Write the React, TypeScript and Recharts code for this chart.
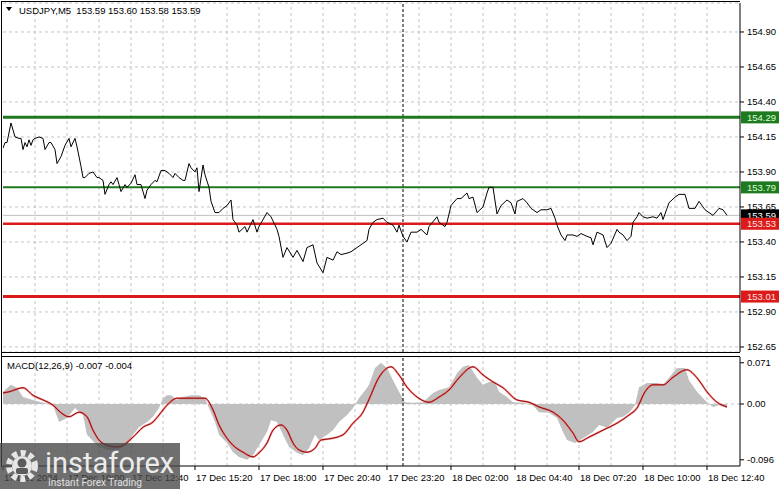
import React from "react";
import { ComposedChart, Line, Area, XAxis, YAxis, CartesianGrid, ReferenceLine } from "recharts";

const FONT = '"Liberation Sans", Arial, sans-serif';
const GREEN = "#1f7a1f";
const RED = "#dc1a1a";
const GRID = "#c4c4c4";

// M5 bars, bar 0 = 17 Dec 07:20
const symbol = "USDJPY,M5";
const ohlc = [153.59, 153.6, 153.58, 153.59];
const macdParams = "12,26,9";
const macdNow = [-0.007, -0.004];

const priceTicks = [152.65, 152.9, 153.15, 153.4, 153.65, 153.9, 154.15, 154.4, 154.65, 154.9];
const resistance = [154.29, 153.79];
const support = [153.53, 153.01];
const lastPrice = 153.59;
const cursorBar = 200;

const timeBars = [0, 32, 64, 96, 128, 160, 192, 224, 256, 288, 320, 352];
const timeLabels = [
  "17 Dec 2024", "17 Dec 10:00", "17 Dec 12:40", "17 Dec 15:20", "17 Dec 18:00", "17 Dec 20:40",
  "17 Dec 23:20", "18 Dec 02:00", "18 Dec 04:40", "18 Dec 07:20", "18 Dec 10:00", "18 Dec 12:40",
];

const macdTicks = [0.071, 0, -0.096];

// [bar, close]
const priceTrace: [number, number][] = [
  [0, 154.07], [1, 154.11], [2, 154.11], [4, 154.25], [5, 154.2], [6, 154.15], [8, 154.14], [9, 154.14],
  [10, 154.06], [11, 154.11], [12, 154.08], [13, 154.13], [14, 154.09], [15, 154.13], [16, 154.14],
  [18, 154.15], [20, 154.14], [21, 154.06], [23, 154.11], [24, 154.11], [26, 154.06], [27, 153.96],
  [29, 154.01], [31, 154.09], [33, 154.14], [34, 154.08], [36, 154.14], [37, 154.08], [39, 153.94],
  [40, 153.86], [41, 153.86], [43, 153.89], [45, 153.9], [47, 153.86], [48, 153.86], [50, 153.84],
  [51, 153.74], [53, 153.81], [54, 153.83], [55, 153.81], [57, 153.86], [58, 153.81], [59, 153.76],
  [61, 153.81], [62, 153.79], [64, 153.82], [66, 153.88], [67, 153.81], [69, 153.81], [71, 153.71],
  [72, 153.77], [74, 153.81], [76, 153.84], [77, 153.83], [79, 153.91], [81, 153.91], [83, 153.89],
  [85, 153.86], [86, 153.89], [88, 153.86], [90, 153.84], [91, 153.84], [93, 153.96], [94, 153.93],
  [96, 153.9], [97, 153.93], [98, 153.76], [100, 153.95], [101, 153.88], [103, 153.79], [104, 153.69],
  [106, 153.61], [108, 153.61], [110, 153.64], [112, 153.66], [114, 153.7], [115, 153.56], [117, 153.52],
  [118, 153.47], [121, 153.51], [122, 153.47], [125, 153.56], [127, 153.47], [128, 153.51], [132, 153.61],
  [134, 153.58], [137, 153.49], [138, 153.44], [140, 153.29], [142, 153.36], [145, 153.29], [147, 153.34],
  [150, 153.26], [152, 153.36], [155, 153.38], [157, 153.25], [160, 153.18], [162, 153.29], [165, 153.27],
  [167, 153.33], [169, 153.31], [172, 153.32], [174, 153.33], [177, 153.36], [179, 153.38], [182, 153.41],
  [183, 153.49], [185, 153.54], [187, 153.56], [190, 153.57], [192, 153.54], [195, 153.52], [197, 153.47],
  [198, 153.52], [200, 153.44], [202, 153.4], [204, 153.47], [207, 153.47], [209, 153.49], [212, 153.45],
  [213, 153.51], [217, 153.58], [218, 153.54], [221, 153.51], [222, 153.54], [224, 153.66], [227, 153.71],
  [229, 153.71], [232, 153.75], [233, 153.71], [235, 153.72], [237, 153.61], [240, 153.65], [242, 153.75],
  [243, 153.79], [245, 153.79], [247, 153.6], [249, 153.66], [252, 153.7], [254, 153.68], [256, 153.6],
  [257, 153.69], [260, 153.71], [262, 153.68], [264, 153.64], [267, 153.61], [269, 153.63], [272, 153.63],
  [274, 153.64], [276, 153.57], [277, 153.52], [279, 153.45], [281, 153.41], [282, 153.45], [285, 153.45],
  [287, 153.44], [289, 153.46], [292, 153.44], [294, 153.43], [295, 153.38], [297, 153.47], [300, 153.45],
  [302, 153.36], [304, 153.39], [307, 153.49], [308, 153.47], [310, 153.45], [312, 153.41], [314, 153.44],
  [315, 153.54], [317, 153.58], [318, 153.61], [320, 153.58], [322, 153.57], [325, 153.58], [327, 153.57],
  [329, 153.61], [330, 153.56], [332, 153.64], [333, 153.68], [336, 153.72], [338, 153.74], [341, 153.74],
  [343, 153.64], [346, 153.64], [348, 153.69], [351, 153.63], [353, 153.61], [355, 153.59], [358, 153.64],
  [360, 153.63], [362, 153.59],
];

// [bar, macd main] (histogram)
const macdTrace: [number, number][] = [
  [0, 0.021], [4, 0.033], [7, 0.028], [10, 0.012], [15, 0.007], [20, 0.002], [25, -0.002], [28, -0.031],
  [32, -0.024], [36, -0.007], [40, -0.019], [42, -0.053], [47, -0.071], [52, -0.079], [57, -0.079],
  [62, -0.071], [65, -0.053], [68, -0.04], [72, -0.031], [75, -0.022], [78, -0.007], [80, 0.01], [82, 0.015],
  [84, 0.015], [87, 0.007], [90, 0.012], [94, 0.015], [98, 0.015], [101, 0.01], [103, -0.007], [106, -0.031],
  [108, -0.053], [112, -0.067], [115, -0.083], [118, -0.091], [122, -0.096], [125, -0.088], [128, -0.071],
  [132, -0.048], [134, -0.028], [137, -0.031], [140, -0.053], [143, -0.074], [147, -0.084], [150, -0.088],
  [153, -0.076], [156, -0.053], [158, -0.062], [162, -0.053], [165, -0.045], [168, -0.031], [172, -0.019],
  [175, -0.007], [178, 0.01], [182, 0.028], [183, 0.033], [186, 0.062], [189, 0.071], [192, 0.062],
  [195, 0.041], [198, 0.021], [201, 0.003], [205, 0.002], [210, 0.003], [215, 0.019], [218, 0.024],
  [223, 0.029], [227, 0.053], [230, 0.064], [233, 0.067], [237, 0.045], [240, 0.033], [243, 0.038],
  [246, 0.038], [248, 0.021], [252, 0.012], [255, 0.003], [260, 0.002], [265, -0.002], [268, -0.014],
  [273, -0.015], [277, -0.024], [280, -0.048], [282, -0.062], [286, -0.067], [290, -0.059], [295, -0.048],
  [298, -0.036], [302, -0.041], [307, -0.024], [310, -0.022], [313, -0.015], [316, -0.002], [318, 0.029],
  [322, 0.036], [327, 0.036], [330, 0.033], [333, 0.045], [337, 0.062], [341, 0.062], [343, 0.041],
  [347, 0.021], [352, 0.003], [355, -0.005], [358, -0.002], [362, -0.007],
];

// [bar, signal]
const signalTrace: [number, number][] = [
  [0, 0.019], [3, 0.021], [10, 0.028], [15, 0.015], [20, 0.007], [25, -0.002], [29, -0.015], [33, -0.022],
  [38, -0.014], [42, -0.022], [45, -0.045], [48, -0.062], [52, -0.071], [57, -0.074], [60, -0.071],
  [65, -0.057], [70, -0.04], [75, -0.031], [78, -0.019], [82, -0.002], [87, 0.01], [92, 0.01], [98, 0.01],
  [101, 0.01], [105, -0.01], [108, -0.036], [112, -0.059], [115, -0.071], [120, -0.083], [125, -0.091],
  [128, -0.084], [132, -0.067], [135, -0.045], [139, -0.036], [142, -0.045], [145, -0.067], [148, -0.079],
  [152, -0.083], [156, -0.076], [159, -0.062], [163, -0.06], [170, -0.053], [175, -0.033], [180, -0.014],
  [183, 0.008], [188, 0.046], [194, 0.064], [198, 0.05], [202, 0.029], [207, 0.012], [213, 0.003],
  [218, 0.012], [223, 0.024], [228, 0.045], [235, 0.064], [240, 0.05], [245, 0.038], [250, 0.028],
  [257, 0.007], [263, 0.003], [268, -0.005], [275, -0.014], [280, -0.028], [285, -0.05], [288, -0.065],
  [293, -0.057], [300, -0.045], [307, -0.033], [313, -0.019], [317, -0.007], [321, 0.021], [325, 0.033],
  [330, 0.033], [335, 0.046], [342, 0.059], [347, 0.045], [352, 0.021], [357, 0.003], [362, -0.005],
];

const W = 781;
const AXIS_W = 41;
const BAR_DOMAIN: [number, number] = [0, 368.5];
const gridBars = Array.from({ length: 22 }, (_, i) => (i + 1) * 16);

const toRows = (t: [number, number][]) => t.map(([bar, v]) => ({ bar, v }));
const priceRows = toRows(priceTrace);
const macdRows = toRows(macdTrace);
const signalRows = toRows(signalTrace);

const tickText = { fontSize: 9.5, fill: "#000", fontFamily: FONT };

function PriceTag(props: any) {
  const { viewBox, price, bg, fg } = props;
  if (!viewBox) return null;
  const x = viewBox.x + viewBox.width + 1;
  const y = viewBox.y;
  return (
    <g>
      <rect x={x} y={y - 6} width={38} height={12} fill={bg} />
      <text x={x + 6} y={y} dy="0.36em" {...tickText} fill={fg}>{price.toFixed(2)}</text>
    </g>
  );
}

function TimeTick(props: any) {
  const { x, y, payload } = props;
  const i = timeBars.indexOf(payload.value);
  return (
    <text x={x + 1} y={y} dy="0.71em" textAnchor="start" {...tickText}>{timeLabels[i]}</text>
  );
}

function PricePane() {
  return (
    <ComposedChart width={W} height={356} margin={{ top: 3, right: 0, bottom: 4, left: 3 }}>
      <CartesianGrid vertical={false} stroke={GRID} strokeDasharray="3 3" />
      <XAxis type="number" dataKey="bar" domain={BAR_DOMAIN} allowDataOverflow hide />
      <YAxis
        orientation="right" type="number" width={AXIS_W} domain={[152.614, 155.107]} allowDataOverflow
        ticks={priceTicks} interval={0} tickSize={4} tickMargin={3}
        tickFormatter={(v: number) => v.toFixed(2)} tick={tickText} stroke="#000"
      />
      {gridBars.map((b) => (
        <ReferenceLine key={b} x={b} stroke={GRID} strokeDasharray="3 3" />
      ))}
      <ReferenceLine x={cursorBar} stroke="#000" strokeDasharray="3 2" />
      <ReferenceLine y={lastPrice} stroke="#c0c0c0"
        label={<PriceTag price={lastPrice} bg="#000" fg="#fff" />} />
      {resistance.map((p, i) => (
        <ReferenceLine key={p} y={p} stroke={GREEN} strokeWidth={i === 0 ? 3 : 2}
          label={<PriceTag price={p} bg={GREEN} fg="#d8ffd8" />} />
      ))}
      {support.map((p, i) => (
        <ReferenceLine key={p} y={p} stroke={RED} strokeWidth={i === 0 ? 2.5 : 3}
          label={<PriceTag price={p} bg={RED} fg="#ffe0e0" />} />
      ))}
      <Line data={priceRows} dataKey="v" type="linear" stroke="#000" strokeWidth={1} dot={false}
        isAnimationActive={false} />
    </ComposedChart>
  );
}

function MacdPane() {
  return (
    <ComposedChart width={W} height={135} margin={{ top: 3, right: 0, bottom: 0, left: 3 }}>
      <XAxis
        type="number" dataKey="bar" domain={BAR_DOMAIN} allowDataOverflow ticks={timeBars} interval={0}
        height={23} tickSize={4} tickMargin={4} stroke="#000" tick={<TimeTick />}
      />
      <YAxis
        orientation="right" type="number" width={AXIS_W} domain={[-0.1067, 0.0809]} allowDataOverflow
        ticks={macdTicks} interval={0} tickSize={4} tickMargin={3}
        tickFormatter={(v: number) => (v === 0 ? "0.00" : String(v))} tick={tickText} stroke="#000"
      />
      {gridBars.map((b) => (
        <ReferenceLine key={b} x={b} stroke={GRID} strokeDasharray="3 3" />
      ))}
      <Area data={macdRows} dataKey="v" type="linear" baseValue={0} fill="#c0c0c0" fillOpacity={1}
        stroke="none" isAnimationActive={false} />
      <ReferenceLine y={0} stroke={GRID} strokeDasharray="3 3" />
      <ReferenceLine x={cursorBar} stroke="#000" strokeDasharray="3 2" />
      <Line data={signalRows} dataKey="v" type="monotone" stroke="#ff5050" strokeOpacity={0.7}
        strokeWidth={2} dot={false} isAnimationActive={false} />
      <Line data={signalRows} dataKey="v" type="monotone" stroke="#7a0000" strokeWidth={0.9} dot={false}
        isAnimationActive={false} />
    </ComposedChart>
  );
}

function Watermark() {
  return (
    <svg width={181} height={46} style={{ position: "absolute", left: 0, top: 443 }}>
      <rect x={0} y={0} width={180} height={46} fill="rgba(70,70,70,0.78)" />
      <g transform="translate(22,23)" fill="#e6e6e6">
        <circle r={13} fill="none" stroke="#e6e6e6" strokeWidth={6} strokeDasharray="5 3.5" />
        <circle r={10} />
        <circle r={4.5} cy={-3} fill="#5a5a5a" />
        <rect x={-6} y={2} width={12} height={6} rx={2} fill="#5a5a5a" />
      </g>
      <text x={45} y={30} fontSize={29} fill="#ececec" fontFamily="Roboto, sans-serif">instaforex</text>
      <text x={48} y={43} fontSize={10} fill="#e0e0e0" fontFamily="Roboto, sans-serif">Instant Forex Trading</text>
    </svg>
  );
}

export default function App() {
  return (
    <div style={{ position: "absolute", left: 0, top: 0, width: W, height: 489, background: "#fff", overflow: "hidden" }}>
      <div style={{ position: "absolute", left: 0, top: 0 }}>
        <PricePane />
      </div>
      <div style={{ position: "absolute", left: 0, top: 354 }}>
        <MacdPane />
      </div>
      <svg width={W} height={489} style={{ position: "absolute", left: 0, top: 0, pointerEvents: "none" }}>
        <line x1={1.5} y1={1} x2={1.5} y2={467} stroke="#000" />
        <line x1={1} y1={1.5} x2={740} y2={1.5} stroke="#000" />
        <line x1={1} y1={352.5} x2={740} y2={352.5} stroke="#000" />
        <line x1={1} y1={356.5} x2={740} y2={356.5} stroke="#000" />
        <path d="M6 7 L12 7 L9 11 Z" fill="#000" />
        <text x={19} y={11} dy="0.36em" {...tickText} style={{ whiteSpace: "pre" }}>
          {`${symbol}  ${ohlc.map((v) => v.toFixed(2)).join(" ")}`}
        </text>
        <text x={7} y={366} dy="0.36em" {...tickText}>
          {`MACD(${macdParams}) ${macdNow.map((v) => v.toFixed(3)).join(" ")}`}
        </text>
      </svg>
      <Watermark />
    </div>
  );
}
